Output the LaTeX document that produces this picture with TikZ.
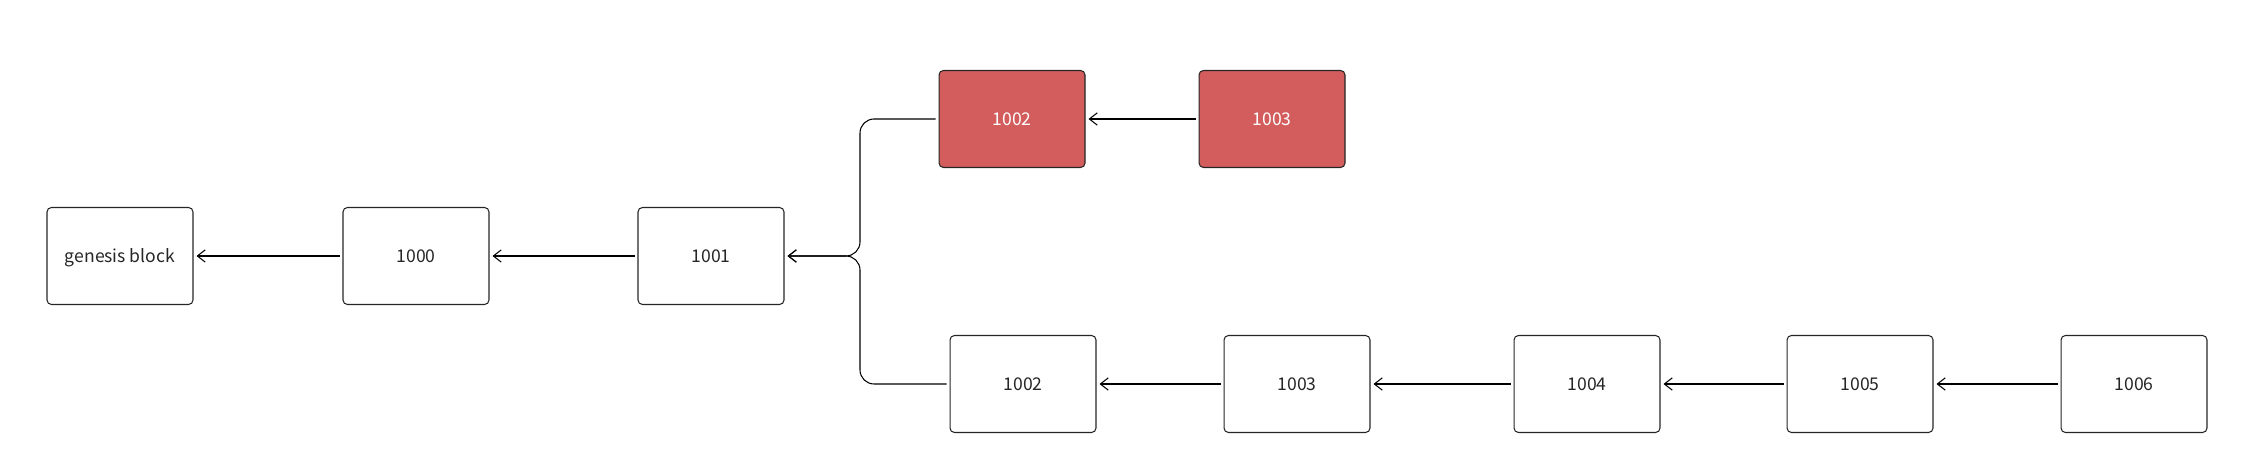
\documentclass[tikz,border=0pt]{standalone}
\usepackage{fontspec}
\setmainfont{Noto Sans CJK SC}
\usetikzlibrary{arrows.meta,positioning}
\definecolor{orphanred}{HTML}{D35D5D}

\begin{document}
\begin{tikzpicture}[x=0.02cm,y=-0.02cm,
    blk/.style={draw=black!85, text=black!85, line width=0.6pt, rounded corners=2.5pt,
      minimum width=2.92cm, minimum height=1.94cm, outer sep=2pt,
      text height=7pt, text depth=0pt, font=\fontsize{10}{12}\selectfont},
    orphan/.style={blk, fill=orphanred, text=white},
    link/.style={-{Straight Barb[length=4.5pt,width=7pt]}, line width=0.6pt}]
  \useasboundingbox (0,0) rectangle (2244,462);

  \node[blk] (gen) at (120, 256) {genesis block};
  \node[blk] (b1000) at (416, 256) {1000};
  \node[blk] (b1001) at (711, 256) {1001};
  \node[orphan] (r1002) at (1012, 119) {1002};
  \node[orphan] (r1003) at (1272, 119) {1003};
  \node[blk] (b1002) at (1023, 384) {1002};
  \node[blk] (b1003) at (1297, 384) {1003};
  \node[blk] (b1004) at (1587, 384) {1004};
  \node[blk] (b1005) at (1860, 384) {1005};
  \node[blk] (b1006) at (2134, 384) {1006};

  \coordinate (split) at (860, 256);

  \foreach \from\to in {b1000/gen,b1001/b1000,r1003/r1002,b1003/b1002,b1004/b1003,b1005/b1004,b1006/b1005}
    \draw[link] (\from) -- (\to);
  \foreach \from in {r1002,b1002}
    \draw[link, rounded corners=8pt] (\from.west) -| (split) -- (b1001.east);
\end{tikzpicture}
\end{document}
